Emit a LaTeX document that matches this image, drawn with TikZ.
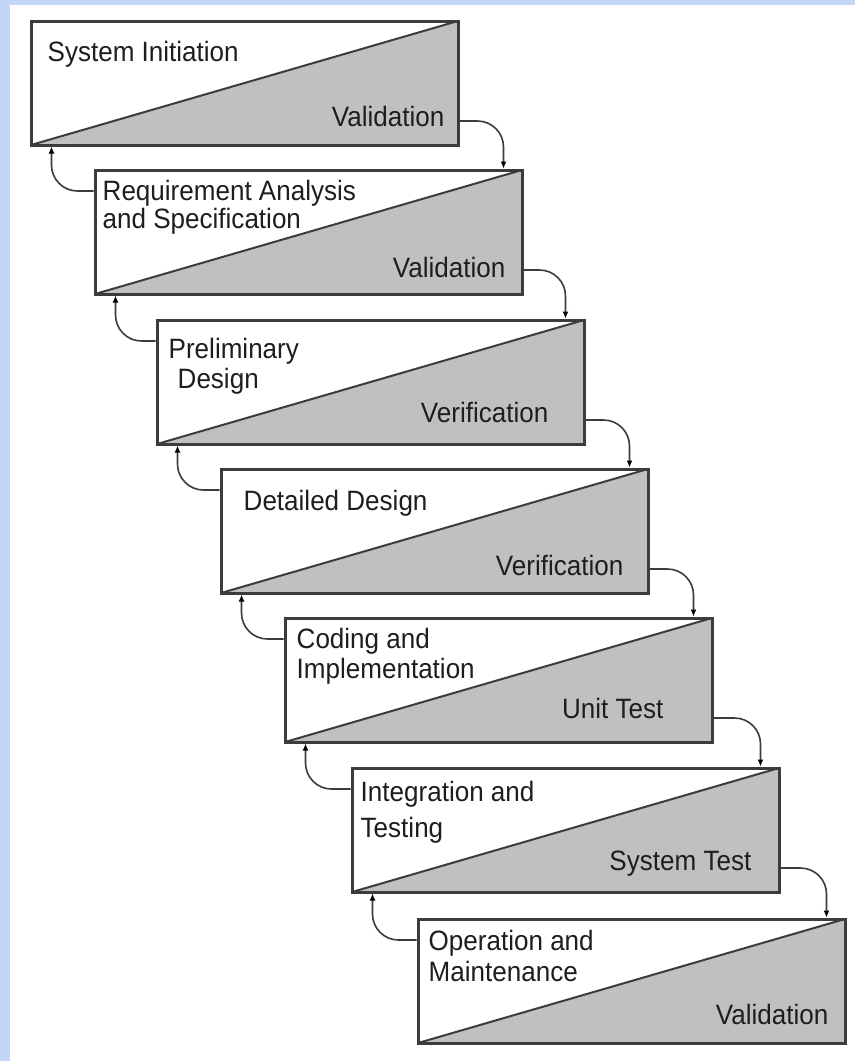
\documentclass[tikz,border=0pt]{standalone}
\usepackage{fontspec}
\setmainfont{Liberation Sans}
\newfontfamily\lblfont[FakeStretch=0.93]{Liberation Sans}
\usetikzlibrary{arrows.meta}
\definecolor{bgblue}{RGB}{195,214,250}
\definecolor{boxgray}{RGB}{192,192,192}
\definecolor{edge}{RGB}{60,60,60}
\definecolor{ink}{RGB}{30,30,30}
\begin{document}
\begin{tikzpicture}[x=1pt,y=-1pt,
  stage/.style={draw=edge, line width=3pt, fill=white,
    minimum width=427pt, minimum height=124pt, inner sep=0pt,
    path picture={
      \fill[boxgray] (path picture bounding box.south west) -- (path picture bounding box.north east) -- (path picture bounding box.south east) -- cycle;
      \draw[edge, line width=2pt] (path picture bounding box.south west) -- (path picture bounding box.north east);}},
  lbl/.style={inner sep=0pt, text=ink, font=\lblfont\fontsize{28}{30}\selectfont},
  tl/.style={lbl, anchor=base west},
  br/.style={lbl, anchor=base east},
  flow/.style={draw=edge, line width=1.6pt, rounded corners=26pt,
    -{Latex[length=7pt,width=6pt,color=black]}}]
\useasboundingbox (0,0) rectangle (855,1061);
\fill[bgblue] (0,0) rectangle (855,1061);
\fill[white] (10,5) rectangle (855,1061);

% stages
\node[stage] (b1) at (244.5,83) {};
\node[stage] (b2) at (308.5,232) {};
\node[stage] (b3) at (370.5,382) {};
\node[stage] (b4) at (434.5,531) {};
\node[stage] (b5) at (498.5,680) {};
\node[stage] (b6) at (565.5,830) {};
\node[stage] (b7) at (631.5,981) {};

% labels
\node[tl] (t1) at ([shift={(18,42)}]b1.north west) {System Initiation};
\node[br] (v1) at ([shift={(-15,-20)}]b1.south east) {Validation};

\node[tl] (t2a) at ([shift={(9,32)}]b2.north west) {Requirement Analysis};
\node[tl] (t2b) at ([shift={(9,60)}]b2.north west) {and Specification};
\node[br] (v2) at ([shift={(-18,-18)}]b2.south east) {Validation};

\node[tl] (t3a) at ([shift={(13,40)}]b3.north west) {Preliminary};
\node[tl] (t3b) at ([shift={(22,70)}]b3.north west) {Design};
\node[br] (v3) at ([shift={(-37,-23)}]b3.south east) {Verification};

\node[tl] (t4) at ([shift={(24,43)}]b4.north west) {Detailed Design};
\node[br] (v4) at ([shift={(-26,-19)}]b4.south east) {Verification};

\node[tl] (t5a) at ([shift={(13,32)}]b5.north west) {Coding and};
\node[tl] (t5b) at ([shift={(13,62)}]b5.north west) {Implementation};
\node[br] (v5) at ([shift={(-50,-25)}]b5.south east) {Unit Test};

\node[tl] (t6a) at ([shift={(10,35)}]b6.north west) {Integration and};
\node[tl] (t6b) at ([shift={(10,71)}]b6.north west) {Testing};
\node[br] (v6) at ([shift={(-29,-23)}]b6.south east) {System Test};

\node[tl] (t7a) at ([shift={(12,33)}]b7.north west) {Operation and};
\node[tl] (t7b) at ([shift={(12,64)}]b7.north west) {Maintenance};
\node[br] (v7) at ([shift={(-18,-20)}]b7.south east) {Validation};

% forward connectors
\foreach \a/\b in {b1/b2,b2/b3,b3/b4,b4/b5,b5/b6,b6/b7}{
  \draw[flow] ([shift={(0,38)}]\a.east) -| ([shift={(-20,0)}]\b.north east);
}
% feedback connectors
\foreach \a/\b in {b2/b1,b3/b2,b4/b3,b5/b4,b6/b5,b7/b6}{
  \draw[flow] ([shift={(0,-41)}]\a.west) -| ([shift={(22,0)}]\b.south west);
}
\end{tikzpicture}
\end{document}
